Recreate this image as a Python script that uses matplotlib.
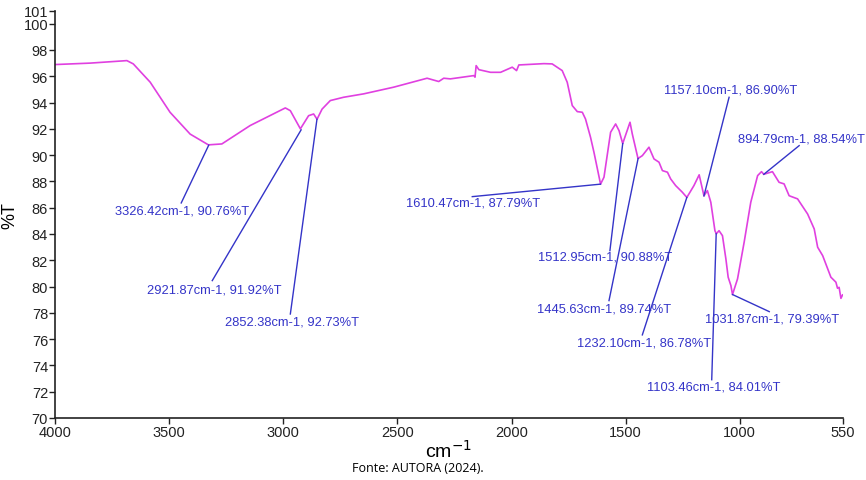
import matplotlib
matplotlib.use("Agg")
import matplotlib.pyplot as plt

plt.rcParams['font.family'] = ['Liberation Sans', 'DejaVu Sans']

# Spectrum (wavenumber cm-1, %T)
wavenumber = [4000, 3846, 3685, 3657, 3583, 3496, 3408, 3328, 3269, 3145, 2991, 2969,
              2925, 2889, 2867, 2852, 2830, 2794, 2736, 2648, 2516, 2370, 2319, 2297,
              2268, 2165, 2160, 2155, 2143, 2092, 2048, 1997, 1978, 1968, 1858, 1822,
              1778, 1756, 1734, 1712, 1690, 1676, 1654, 1639, 1610, 1595, 1566, 1544,
              1529, 1513, 1481, 1471, 1446, 1427, 1398, 1376, 1354, 1339, 1317, 1303,
              1281, 1252, 1232, 1201, 1178, 1164, 1157, 1142, 1127, 1109, 1103, 1091,
              1076, 1061, 1051, 1039, 1032, 1010, 981, 952, 922, 905, 895, 857, 828,
              806, 784, 747, 703, 674, 659, 637, 601, 579, 572, 565, 557, 550]
transmittance = [96.89, 97.0, 97.19, 96.94, 95.55, 93.26, 91.6, 90.78, 90.85, 92.25, 93.59, 93.38,
                 92.0, 93.0, 93.13, 92.73, 93.5, 94.15, 94.40, 94.66, 95.17, 95.85, 95.6, 95.85,
                 95.8, 96.05, 95.93, 96.81, 96.5, 96.3, 96.3, 96.69, 96.43, 96.86, 96.96, 96.94,
                 96.43, 95.54, 93.77, 93.31, 93.26, 92.75, 91.36, 90.22, 87.79, 88.32, 91.74, 92.37,
                 91.86, 90.88, 92.5, 91.61, 89.74, 89.96, 90.6, 89.71, 89.46, 88.82, 88.7, 88.19,
                 87.68, 87.18, 86.78, 87.68, 88.5, 87.43, 86.90, 87.3, 86.41, 84.25, 84.01, 84.25,
                 83.87, 82.1, 80.71, 80.07, 79.39, 80.58, 83.37, 86.41, 88.44, 88.74, 88.54, 88.74, 87.93,
                 87.81, 86.91, 86.67, 85.52, 84.38, 82.99, 82.35, 80.71, 80.33, 79.87, 79.94, 79.1, 79.36]

# Peak annotations
peak_x = [3326.42, 2921.87, 2852.38, 1610.47, 1512.95, 1445.63, 1232.10, 1103.46, 1031.87, 1157.10, 894.79]
peak_y = [90.76, 91.92, 92.73, 87.79, 90.88, 89.74, 86.78, 84.01, 79.39, 86.90, 88.54]
label_x = [3443, 3303, 2963, 2167, 1592, 1594, 1419, 1116, 860, 1042, 728]
label_y = [85.78, 79.76, 77.31, 86.36, 82.25, 78.30, 75.76, 72.41, 77.59, 94.98, 91.29]
leader_x = [3447, 3311, 2969, 2172, 1569, 1573, 1427, 1123, 871, 1047, 740]
leader_y = [86.36, 80.45, 77.91, 86.84, 82.73, 78.93, 76.32, 72.91, 78.09, 94.40, 90.72]

x_ticks = [4000, 3500, 3000, 2500, 2000, 1500, 1000, 550]
y_ticks = [70, 72, 74, 76, 78, 80, 82, 84, 86, 88, 90, 92, 94, 96, 98, 100, 101]

fig = plt.figure(figsize=(8.66, 4.81), dpi=100)
ax = fig.add_axes([0.0635, 0.129, 0.9094, 0.847])

ax.plot(wavenumber, transmittance, color='#e040e0', linewidth=1.2)

line_color = '#3434c8'
for px, py, lx, ly, tx, ty in zip(peak_x, peak_y, leader_x, leader_y, label_x, label_y):
    ax.plot([px, lx], [py, ly], color=line_color, linewidth=1.0)
    ax.text(tx, ty, f"{px:.2f}cm-1, {py:.2f}%T", color=line_color, fontsize=9.3,
            ha='center', va='center')

ax.set_xlim(4000, 550)
ax.set_ylim(70, 101)
ax.set_xticks(x_ticks)
ax.set_xticklabels([str(t) for t in x_ticks])
ax.set_yticks(y_ticks)
ax.set_yticklabels([str(t) for t in y_ticks])
ax.tick_params(axis='both', direction='out', length=4, width=1, labelsize=10.5, colors='#222222', pad=1)
for s in ['top', 'right']:
    ax.spines[s].set_visible(False)
for s in ['left', 'bottom']:
    ax.spines[s].set_linewidth(1.2)
    ax.spines[s].set_color('#222222')

ax.set_ylabel('%T', fontsize=13)
ax.yaxis.set_label_coords(-0.047, 0.5)
ax.set_xlabel('cm$^{-1}$', fontsize=14, labelpad=0)

fig.text(0.483, 0.025, 'Fonte: AUTORA (2024).', fontsize=9, ha='center', va='center',
         family=['Open Sans', 'DejaVu Sans'])

fig.savefig('out.png', dpi=100)
